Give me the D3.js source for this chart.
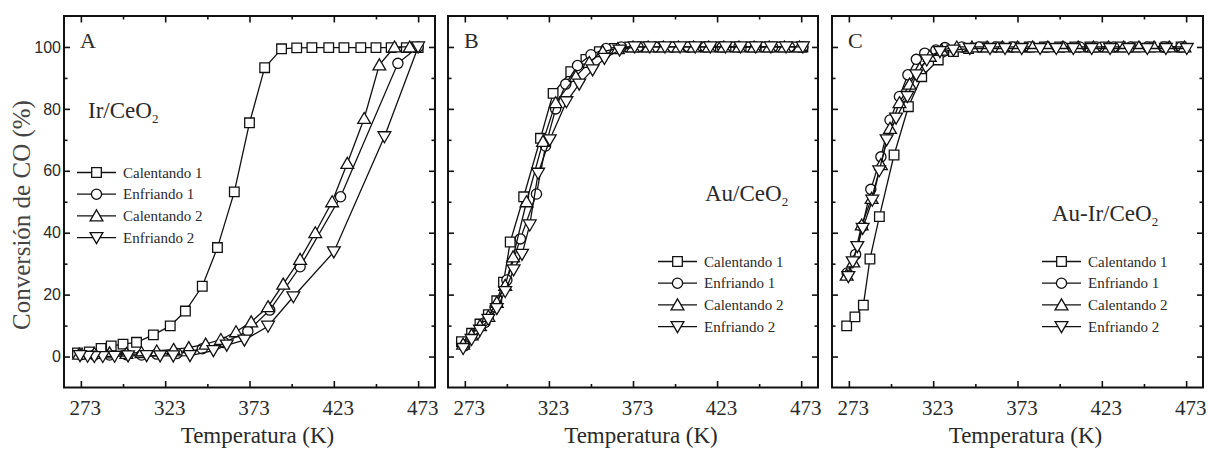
<!DOCTYPE html>
<html>
<head>
<meta charset="utf-8">
<script src="https://cdn.jsdelivr.net/npm/d3@7"></script>
<style>
  html, body { margin: 0; padding: 0; background: #fff; }
  svg { display: block; }
</style>
</head>
<body>
<script>
// ---- Data: CO conversion (%) versus temperature (K), [T, conversion] pairs ----
// Panel A: Ir/CeO2
const irCalentando1 = [[271,1.2],[278,1.5],[285,2.6],[291,3.4],[298,4.0],[306,4.6],[316,7.0],[326,9.9],[335,14.7],[345,22.7],[354,35.2],[364,53.2],[373,75.5],[382,93.3],[392,99.4],[401,99.7],[410,99.8],[420,99.8],[429,99.8],[439,99.8],[448,99.8],[457,99.8],[466,99.8],[473,99.8]];
const irEnfriando1 = [[473,100],[461,94.7],[427,51.6],[403,29.0],[385,15.0],[372,8.2],[358,4.5],[345,2.5],[330,1.0],[318,0.8],[309,0.5],[300,0.6],[290,0.5],[281,0.5],[273,0.6]];
const irCalentando2 = [[272,0.8],[281,1.0],[290,1.2],[300,1.0],[309,1.3],[318,1.8],[328,2.3],[337,2.9],[347,4.0],[356,5.5],[365,8.0],[374,11.2],[384,16.1],[393,23.4],[403,31.4],[412,40.0],[422,50.0],[431,62.4],[441,76.9],[450,94.2],[459,100],[468,100]];
const irEnfriando2 = [[473,100],[453,71.0],[423,33.8],[399,19.3],[384,9.8],[370,5.3],[359.5,3.7],[351.6,1.9],[337.7,0.3],[327.8,0.2],[320,0.2],[312,0.3],[301,0.2],[293,0.1],[286,0],[281,0],[277,0.1],[272.5,0.3]];

// Panel B: Au/CeO2
const auCalentando1 = [[271,4.8],[277,7.5],[282,10.5],[287,13.5],[292,18],[296,24],[300,37],[308,51.6],[318,70.5],[325.5,85],[336,92],[345,96],[353,98.5],[362,99.5],[371,100],[380,100],[389,100],[398,100],[407,100],[416,100],[425,100],[434,100],[443,100],[452,100],[461,100],[470,100],[474,100]];
const auEnfriando1 = [[273,3.5],[279,7],[285,11],[291,16],[298,24.7],[306,38],[315.6,52.5],[321,68],[327,80],[333,88],[340,94],[348,97.5],[357,99.5],[366,100],[376,100],[386,100],[396,100],[406,100],[416,100],[426,100],[436,100],[446,100],[456,100],[466,100],[474,100]];
const auCalentando2 = [[272,4],[277,7],[282,10],[287,13],[292,17.5],[297,23],[301.7,32.2],[309.7,50],[319.5,69.5],[327,82],[339,90.5],[347,95],[355,98.5],[364,99.5],[373,100],[382,100],[391,100],[400,100],[409,100],[418,100],[427,100],[436,100],[445,100],[454,100],[463,100],[472,100]];
const auEnfriando2 = [[272,2.6],[277,5.5],[282,8.5],[287,12],[292,15.5],[297,21],[302,28],[307,33],[311.6,42.5],[316.6,59.2],[323.5,70],[333.4,82.3],[341,88],[349,92.6],[356,96.3],[365,99],[374,100],[383,100],[392,100],[401,100],[410,100],[419,100],[428,100],[437,100],[446,100],[455,100],[464,100],[474,100]];

// Panel C: Au-Ir/CeO2
const auirCalentando1 = [[271.7,9.9],[276.6,12.8],[281.6,16.6],[285.5,31.5],[291.1,45.2],[299.8,65.1],[308.3,80.7],[316.2,90.4],[326,95.8],[335,98.5],[344,99.5],[353,100],[362,100],[371,100],[380,100],[389,100],[398,100],[407,100],[416,100],[425,100],[434,100],[443,100],[452,100],[461,100],[470,100]];
const auirEnfriando1 = [[272,27],[277,33],[281,42],[286,54],[292,64.5],[297.4,76.4],[303,84],[308,91],[313,96],[318,98],[324.6,99],[330,99.8],[340,100],[350,100],[360,100],[370,100],[380,100],[390,100],[400,100],[410,100],[420,100],[430,100],[440,100],[450,100],[460,100],[470,100]];
const auirCalentando2 = [[271.7,26.3],[275.6,30.6],[280.6,42.5],[286.5,51.1],[292,62],[297.4,73.7],[303,82],[309,88],[315,93],[321,97],[328,99],[337,100],[346,100],[355,100],[364,100],[373,100],[382,100],[391,100],[400,100],[409,100],[418,100],[427,100],[436,100],[445,100],[454,100],[463,100],[472,100]];
const auirEnfriando2 = [[272.7,25.8],[275.3,30.6],[278,35.5],[281.2,41.4],[286.9,50.5],[291,60],[295.4,70],[301,77],[307.7,84],[313,91],[319.2,95.8],[327,98.5],[335,99],[344.7,99.5],[356.7,99.5],[365.6,99.5],[375.5,99.5],[386.4,99.5],[396,99.5],[406.1,99.5],[417,99.5],[427.9,99.5],[439,99.5],[450,99.5],[461,99.5],[473.4,99.5]];

// Axis ticks and labels
const xMajorTicks = [273, 323, 373, 423, 473];
const xMinorTicks = [298, 348, 398, 448];
const yMajorTicks = [0, 20, 40, 60, 80, 100];
const yMinorTicks = [-10, 10, 30, 50, 70, 90, 110];
const seriesNames = ["Calentando 1", "Enfriando 1", "Calentando 2", "Enfriando 2"];
const seriesSymbols = ["square", "circle", "triangleUp", "triangleDown"];
const xTitle = "Temperatura (K)";
const yTitle = "Conversión de CO (%)";

// ---- Layout ----
const W = 1208, H = 450;
const TOP = 16, BOTTOM = 387.5;
const SERIF = "'Liberation Serif', 'Times New Roman', serif";
const SANS = "'Liberation Sans', Arial, sans-serif";
const INK = "#111";
const TEXT = "#2a2a2a";

const panels = [
  { left: 64, right: 435, letter: "A", label: ["Ir/CeO", "2"], labelX: 88, labelY: 118,
    series: [irCalentando1, irEnfriando1, irCalentando2, irEnfriando2],
    legendX: 77, legendY: 172.5, yLabels: true },
  { left: 448, right: 818, letter: "B", label: ["Au/CeO", "2"], labelX: 705, labelY: 201,
    series: [auCalentando1, auEnfriando1, auCalentando2, auEnfriando2],
    legendX: 658, legendY: 261.5, yLabels: false },
  { left: 832, right: 1203, letter: "C", label: ["Au-Ir/CeO", "2"], labelX: 1052, labelY: 221,
    series: [auirCalentando1, auirEnfriando1, auirCalentando2, auirEnfriando2],
    legendX: 1042, legendY: 261.5, yLabels: false }
];

const svg = d3.select("body").append("svg").attr("width", W).attr("height", H);

// Marker shapes, open with white fill
function markerPath(kind) {
  const p = d3.path();
  if (kind === "square") {
    const s = 4.8; p.rect(-s, -s, 2 * s, 2 * s);
  } else if (kind === "circle") {
    p.arc(0, 0, 5.1, 0, 2 * Math.PI);
  } else if (kind === "triangleUp") {
    p.moveTo(0, -6); p.lineTo(6.4, 5); p.lineTo(-6.4, 5); p.closePath();
  } else {
    p.moveTo(0, 6); p.lineTo(6.4, -5); p.lineTo(-6.4, -5); p.closePath();
  }
  return p.toString();
}

const yScale = d3.scaleLinear().domain([-10, 110]).range([BOTTOM, TOP]);

panels.forEach(pan => {
  const x = d3.scaleLinear().domain([263, 483]).range([pan.left, pan.right]);
  const g = svg.append("g");

  // Ticks on all four sides, pointing inward
  const addAxis = (axis, transform) => {
    const a = g.append("g").attr("transform", transform).call(axis);
    a.select(".domain").remove();
    a.selectAll(".tick line").attr("stroke", INK).attr("stroke-width", 1.6);
    return a;
  };
  // bottom
  const bAxis = addAxis(d3.axisBottom(x).tickValues(xMajorTicks).tickSize(-6.5).tickPadding(12.5)
      .tickFormat(d3.format("d")), `translate(0,${BOTTOM})`);
  bAxis.selectAll(".tick text")
    .attr("font-family", SERIF).attr("font-size", 21).attr("fill", TEXT).attr("dx", 4);
  addAxis(d3.axisBottom(x).tickValues(xMinorTicks).tickSize(-3.5).tickFormat(""), `translate(0,${BOTTOM})`);
  // top
  addAxis(d3.axisTop(x).tickValues(xMajorTicks).tickSize(-6.5).tickFormat(""), `translate(0,${TOP})`);
  addAxis(d3.axisTop(x).tickValues(xMinorTicks).tickSize(-3.5).tickFormat(""), `translate(0,${TOP})`);
  // left
  const lAxis = addAxis(d3.axisLeft(yScale).tickValues(yMajorTicks).tickSize(-6).tickPadding(3)
      .tickFormat(pan.yLabels ? d3.format("d") : ""), `translate(${pan.left},0)`);
  lAxis.selectAll(".tick text")
    .attr("font-family", SANS).attr("font-size", 16).attr("fill", TEXT);
  addAxis(d3.axisLeft(yScale).tickValues(yMinorTicks.filter(v => v > -10 && v < 110)).tickSize(-3.5).tickFormat(""), `translate(${pan.left},0)`);
  // right
  addAxis(d3.axisRight(yScale).tickValues(yMajorTicks).tickSize(-6).tickFormat(""), `translate(${pan.right},0)`);
  addAxis(d3.axisRight(yScale).tickValues(yMinorTicks.filter(v => v > -10 && v < 110)).tickSize(-3.5).tickFormat(""), `translate(${pan.right},0)`);

  // Series: connecting line first, then open markers
  const line = d3.line().x(d => x(d[0])).y(d => yScale(d[1]));
  pan.series.forEach((data, i) => {
    const sg = g.append("g");
    sg.append("path").datum(data).attr("d", line)
      .attr("fill", "none").attr("stroke", INK).attr("stroke-width", 1.3);
    sg.selectAll("path.mk").data(data).join("path").attr("class", "mk")
      .attr("d", markerPath(seriesSymbols[i]))
      .attr("transform", d => `translate(${x(d[0])},${yScale(d[1])})`)
      .attr("fill", "#fff").attr("stroke", INK).attr("stroke-width", 1.3);
  });

  // Frame
  g.append("rect").attr("x", pan.left).attr("y", TOP)
    .attr("width", pan.right - pan.left).attr("height", BOTTOM - TOP)
    .attr("fill", "none").attr("stroke", INK).attr("stroke-width", 2);

  // Panel letter
  g.append("text").attr("x", pan.left + 16).attr("y", 48)
    .attr("font-family", SERIF).attr("font-size", 22).attr("fill", TEXT).text(pan.letter);

  // Catalyst label with subscript
  const lt = g.append("text").attr("x", pan.labelX).attr("y", pan.labelY)
    .attr("font-family", SERIF).attr("font-size", 23).attr("fill", TEXT);
  lt.append("tspan").text(pan.label[0]);
  lt.append("tspan").attr("font-size", 13).attr("dy", 5).text(pan.label[1]);

  // Legend
  seriesNames.forEach((name, i) => {
    const yy = pan.legendY + i * 21.7;
    const lg = g.append("g");
    lg.append("line").attr("x1", pan.legendX).attr("x2", pan.legendX + 39)
      .attr("y1", yy).attr("y2", yy).attr("stroke", INK).attr("stroke-width", 1.3);
    lg.append("path").attr("d", markerPath(seriesSymbols[i]))
      .attr("transform", `translate(${pan.legendX + 19.5},${yy})`)
      .attr("fill", "#fff").attr("stroke", INK).attr("stroke-width", 1.3);
    lg.append("text").attr("x", pan.legendX + 46).attr("y", yy + 5)
      .attr("font-family", SERIF).attr("font-size", 15).attr("fill", TEXT).text(name);
  });

  // X axis title
  g.append("text").attr("x", (pan.left + pan.right) / 2 + 8).attr("y", 443)
    .attr("text-anchor", "middle").attr("font-family", SERIF).attr("font-size", 23)
    .attr("fill", TEXT).text(xTitle);
});

// Y axis title
svg.append("text").attr("transform", `translate(30,215) rotate(-90)`)
  .attr("text-anchor", "middle").attr("font-family", SERIF).attr("font-size", 25)
  .attr("fill", "#444").text(yTitle);
</script>
</body>
</html>
